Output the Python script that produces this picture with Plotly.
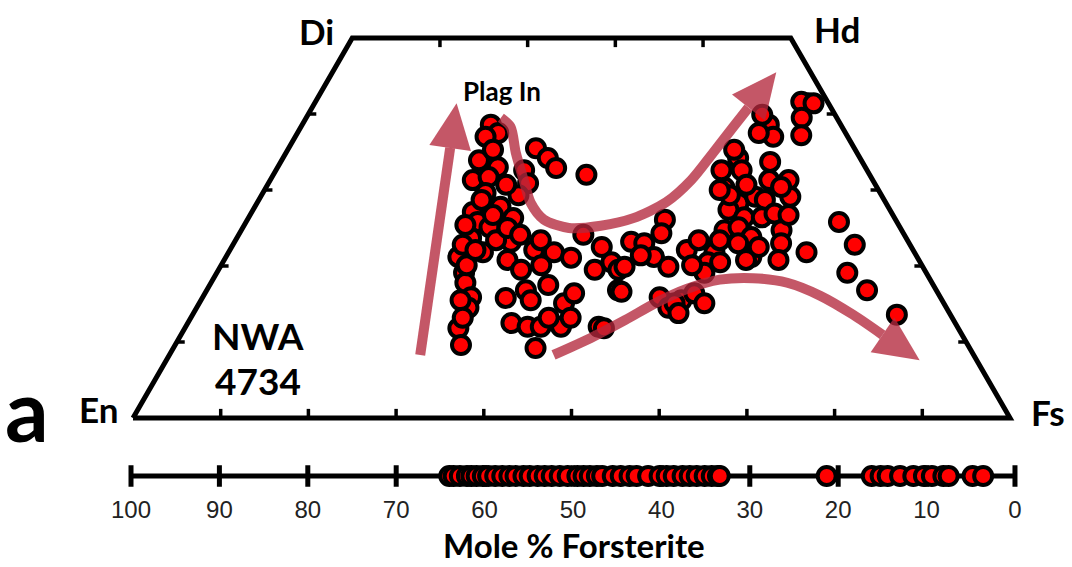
import math
import plotly.graph_objects as go

# ---------------- data (mole %) ----------------
# Pyroxene compositions: Wo (wollastonite) and Fs (ferrosilite) content
px_wo = [38.6, 37.5, 37.0, 35.5, 34.2, 32.9, 32.0, 33.0, 31.3, 31.7, 32.6, 30.9, 29.3, 30.7, 29.6,
         27.8, 27.1, 25.8, 25.1, 26.3, 23.7, 21.8, 23.2, 21.2, 20.8, 19.5, 22.1, 21.8, 24.1, 22.5,
         23.2, 23.0, 26.1, 24.3, 21.2, 22.1, 19.5, 20.5, 19.5, 16.8, 19.1, 17.8, 15.9, 14.5, 11.8,
         9.6, 15.8, 16.8, 17.5, 15.1, 16.4, 12.5, 12.0, 12.0, 12.0, 13.2, 9.2, 12.0, 11.8, 15.9,
         14.5, 15.5, 16.4, 41.4, 41.6, 41.4, 39.5, 37.2, 38.6, 39.9, 37.0, 37.5, 34.2, 35.3, 32.6,
         33.7, 31.3, 31.3, 29.1, 30.4, 30.3, 28.3, 29.1, 28.7, 27.4, 26.4, 26.4, 26.9, 24.7, 25.1,
         23.8, 24.7, 23.0, 23.0, 21.2, 20.8, 22.5, 21.8, 25.8, 22.8, 19.1, 16.8, 13.6, 23.4, 21.8,
         20.5, 20.5, 19.1, 19.9, 19.9, 16.6, 15.1, 13.8, 15.1, 33.9, 35.3, 28.7, 23.4, 25.4, 22.8,
         20.1, 21.1, 21.4, 32.6, 29.3, 30.7, 26.7, 23.4, 20.1, 20.1, 15.5, 13.2, 22.1, 26.7, 25.0,
         24.1, 23.4, 15.5, 13.2, 30.0, 20.8]
px_fs = [21.5, 22.9, 21.7, 28.2, 30.2, 31.8, 35.7, 25.1, 23.1, 24.7, 28.3, 29.6, 29.3, 27.2, 25.4,
         28.0, 25.2, 26.4, 28.1, 30.2, 26.7, 29.0, 31.5, 26.5, 32.3, 34.5, 34.7, 37.1, 39.3, 42.2,
         45.2, 46.8, 47.6, 48.1, 48.8, 52.1, 42.9, 44.3, 45.6, 46.9, 28.2, 29.0, 30.6, 31.0, 31.2,
         32.6, 34.6, 36.4, 38.6, 41.6, 42.1, 36.9, 39.0, 40.5, 42.8, 43.3, 41.3, 47.1, 47.8, 52.1,
         53.8, 54.8, 55.8, 56.3, 55.4, 56.9, 56.5, 57.6, 53.2, 51.8, 54.5, 52.6, 51.9, 50.9, 53.1,
         55.8, 56.9, 59.1, 60.4, 58.7, 52.3, 54.9, 56.4, 57.7, 54.2, 56.5, 58.5, 59.7, 55.1, 56.5,
         58.6, 61.6, 62.4, 57.5, 59.9, 63.2, 60.1, 65.9, 67.6, 70.9, 71.9, 75.3, 80.3, 52.8, 55.4,
         55.3, 56.7, 55.6, 51.1, 46.1, 47.4, 54.2, 55.3, 57.6, 22.5, 23.4, 25.4, 29.7, 25.2, 26.2,
         36.5, 39.4, 47.2, 50.8, 53.4, 54.6, 61.4, 55.2, 53.7, 28.0, 29.6, 31.0, 28.0, 27.7, 30.2,
         32.1, 34.8, 37.6, 40.8, 51.9, 59.5]

# Olivine compositions (mole % forsterite)
ol_fo = [64.0, 63.5, 62.8, 62.0, 61.5, 60.9, 60.2, 59.6, 58.8, 58.0, 57.2, 56.5, 55.6, 54.9, 54.0,
         53.2, 52.4, 51.5, 50.6, 49.5, 48.8, 48.1, 47.3, 46.7, 45.5, 44.6, 43.6, 42.8, 41.5, 40.2,
         39.4, 38.6, 37.6, 36.8, 36.0, 35.1, 34.3, 33.6, 33.4, 21.3, 16.2, 15.2, 14.4, 13.0, 11.5,
         10.3, 9.4, 8.1, 7.5, 4.8, 3.6]

# Crystallisation-trend arrows (Wo, Fs), last point is the arrow tip
arrow1_wo = [8.3, 41.4]
arrow1_fs = [28.6, 16.2]
arrow2_wo = [39.5, 38.3, 34.9, 31.3, 28.3, 26.1, 25.0, 25.3, 26.3, 28.4, 31.3, 34.9, 38.3, 45.5]
arrow2_fs = [22.2, 23.9, 26.2, 28.9, 31.2, 33.8, 37.2, 40.7, 43.9, 46.6, 48.0, 48.7, 49.3, 50.6]
arrow3_wo = [8.3, 10.5, 12.9, 15.1, 17.0, 18.2, 18.4, 17.8, 16.1, 13.6, 7.6]
arrow3_fs = [43.8, 46.9, 49.7, 52.0, 54.7, 57.8, 61.5, 65.7, 70.3, 75.3, 85.9]

# Quadrilateral end members En, Fs, Hd, Di (Wo, Fs)
quad_wo = [0, 0, 50, 50, 0]
quad_fs = [0, 100, 50, 0, 0]
wo_ticks = [10, 20, 30, 40]
fs_ticks_bottom = [10, 20, 30, 40, 50, 60, 70, 80, 90]
fs_ticks_top = [10, 20, 30, 40]
fo_ticks = [100, 90, 80, 70, 60, 50, 40, 30, 20, 10, 0]

# ---------------- layout constants ----------------
W_PX, H_PX = 1072, 567
X_RANGE = [-15.165, 107.07]
Y_RANGE = [-19.605, 55.0]
SX = W_PX / (X_RANGE[1] - X_RANGE[0])   # px per x unit
SY = H_PX / (Y_RANGE[1] - Y_RANGE[0])   # px per y unit
HEAD_LEN, HEAD_HALF = 45, 21            # arrow head size in px


def proj(fs, wo):
    """ternary projection: horizontal position of a composition"""
    return [f + w / 2 for f, w in zip(fs, wo)]


def arrow_parts(xs, ys):
    """shaft (ending at the head base) and head triangle, from a path whose last point is the tip"""
    x1, y1, x2, y2 = xs[-2], ys[-2], xs[-1], ys[-1]
    dx, dy = (x2 - x1) * SX, (y2 - y1) * SY
    n = math.hypot(dx, dy)
    ux, uy = dx / n, dy / n
    bx, by = x2 * SX - ux * HEAD_LEN, y2 * SY - uy * HEAD_LEN
    lx, ly = bx - uy * HEAD_HALF, by + ux * HEAD_HALF
    rx, ry = bx + uy * HEAD_HALF, by - ux * HEAD_HALF
    shaft_x = xs[:-1] + [bx / SX]
    shaft_y = ys[:-1] + [by / SY]
    head_x = [x2, lx / SX, rx / SX, x2]
    head_y = [y2, ly / SY, ry / SY, y2]
    return shaft_x, shaft_y, head_x, head_y


ARROW_COLOR = "rgba(180,40,60,0.78)"
fig = go.Figure()

# frame
fig.add_trace(go.Scatter(x=proj(quad_fs, quad_wo), y=quad_wo, mode="lines",
                         line=dict(color="black", width=5), hoverinfo="skip"))
# frame ticks
tx, ty = [], []
for w in wo_ticks:
    tx += [w / 2, w / 2 + 0.9, None, 100 - w / 2, 100 - w / 2 - 0.9, None]
    ty += [w, w, None, w, w, None]
for f in fs_ticks_bottom:
    tx += [f, f, None]
    ty += [0, 1.2, None]
for f in fs_ticks_top:
    tx += [f + 25, f + 25, None]
    ty += [50, 48.8, None]
fig.add_trace(go.Scatter(x=tx, y=ty, mode="lines", line=dict(color="black", width=3.5),
                         hoverinfo="skip"))

# pyroxene points
fig.add_trace(go.Scatter(x=proj(px_fs, px_wo), y=px_wo, mode="markers",
                         marker=dict(size=18, color="#FF0000", line=dict(color="black", width=4))))

# arrows
for a_wo, a_fs in [(arrow1_wo, arrow1_fs), (arrow2_wo, arrow2_fs), (arrow3_wo, arrow3_fs)]:
    sx, sy, hx, hy = arrow_parts(proj(a_fs, a_wo), list(a_wo))
    fig.add_trace(go.Scatter(x=sx, y=sy, mode="lines",
                             line=dict(color=ARROW_COLOR, width=10, shape="spline", smoothing=0.8),
                             hoverinfo="skip"))
    fig.add_trace(go.Scatter(x=hx, y=hy, mode="lines", fill="toself", fillcolor=ARROW_COLOR,
                             line=dict(width=0, color="rgba(0,0,0,0)"), hoverinfo="skip"))

# olivine bar
bx, by = [100, 0, None], [0, 0, None]
for t in fo_ticks:
    bx += [t, t, None]
    by += [-0.95, 0.95, None]
fig.add_trace(go.Scatter(x=bx, y=by, xaxis="x2", yaxis="y2", mode="lines",
                         line=dict(color="black", width=5), hoverinfo="skip"))
fig.add_trace(go.Scatter(x=ol_fo, y=[0] * len(ol_fo), xaxis="x2", yaxis="y2", mode="markers",
                         marker=dict(size=18, color="#FF0000", line=dict(color="black", width=4))))

BOLD = dict(family="Lato, 'Open Sans', sans-serif", color="black", weight="bold")


def label(text, px, py, size):
    fig.add_annotation(text=text, x=px / W_PX, y=1 - py / H_PX, xref="paper", yref="paper",
                       showarrow=False, xanchor="center", yanchor="middle",
                       font=dict(size=size, **BOLD))


label("Di", 316, 31, 35)
label("Hd", 837, 29, 35)
label("En", 98, 409, 35)
label("Fs", 1048, 412, 35)
label("a", 27, 408, 86)
label("NWA", 258, 335, 37)
label("4734", 258, 380, 37)
label("Plag In", 502, 91, 26)
label("Mole % Forsterite", 574, 545, 33)

fig.update_layout(
    width=W_PX, height=H_PX, margin=dict(l=0, r=0, t=0, b=0),
    paper_bgcolor="white", plot_bgcolor="rgba(0,0,0,0)", showlegend=False,
    xaxis=dict(range=X_RANGE, visible=False, domain=[0, 1]),
    yaxis=dict(range=Y_RANGE, visible=False, domain=[0, 1]),
    xaxis2=dict(range=[114.82, -6.45], domain=[0, 1], anchor="y2", showgrid=False,
                zeroline=False, showline=False, ticks="", tickvals=fo_ticks,
                ticktext=[str(t) for t in fo_ticks], ticklabelstandoff=6,
                tickfont=dict(family="Liberation Sans, Arial, sans-serif", size=24, color="#222")),
    yaxis2=dict(range=[-1, 1], domain=[0.1405, 0.1805], anchor="x2", visible=False),
)

fig.write_html("out.html")
